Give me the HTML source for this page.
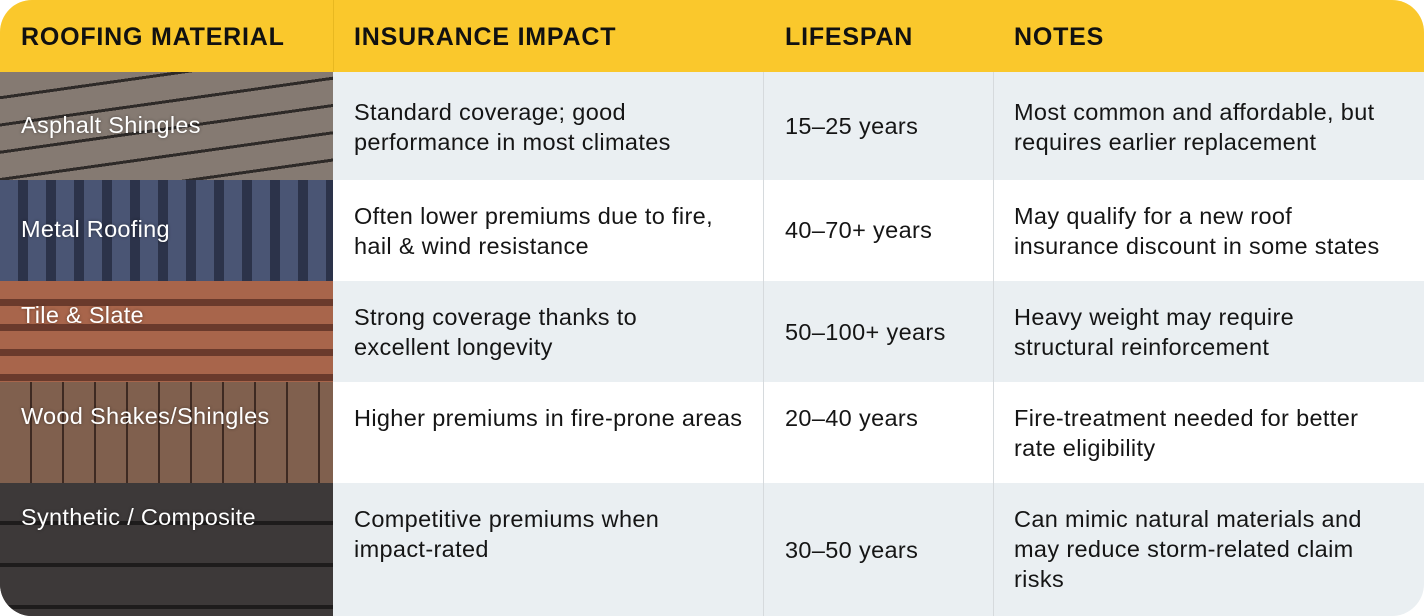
<!DOCTYPE html>
<html><head><meta charset="utf-8"><style>
*{margin:0;padding:0;box-sizing:border-box}
body{width:1424px;height:616px;background:#fff;overflow:hidden;font-family:"Liberation Sans",sans-serif}
#t{position:absolute;left:0;top:0;width:1424px;height:616px;border-radius:32px;overflow:hidden;background:#fff}
.hd{position:absolute;left:0;top:0;width:1424px;height:72px;background:#FAC82C}
.h{position:absolute;top:23px;font-weight:bold;font-size:25px;color:#111;letter-spacing:0.8px}
.row{position:absolute;left:333px;width:1091px}
.g{background:#EAEFF2}
.img{position:absolute;left:0;width:333px}
.vl{position:absolute;top:0;width:1px;height:616px;background:#d6dadd}
.tx{position:absolute;font-size:23.5px;line-height:30px;color:#151515;letter-spacing:0.35px;white-space:nowrap}
.lb{position:absolute;left:21px;font-size:23.5px;letter-spacing:0.3px;color:#fff;text-shadow:0 0 3px rgba(0,0,0,.4)}
</style></head><body>
<div id="t">
<div class="row g" style="top:72px;height:108px"></div>
<div class="row" style="top:180px;height:101px"></div>
<div class="row g" style="top:281px;height:101px"></div>
<div class="row" style="top:382px;height:101px"></div>
<div class="row g" style="top:483px;height:133px"></div>
<div class="vl" style="left:763px"></div>
<div class="vl" style="left:993px"></div>
<div class="img" style="top:72px;height:108px;background:repeating-linear-gradient(172deg,#857a72 0 24px,#2e2a28 24px 27px),#7d736b"></div>
<div class="img" style="top:180px;height:101px;background:repeating-linear-gradient(90deg,#4a5574 0 18px,#2c334a 18px 28px),#3b4560"></div>
<div class="img" style="top:281px;height:101px;background:repeating-linear-gradient(180deg,#a8654b 0 18px,#6a3a2c 18px 25px),#9a5a44"></div>
<div class="img" style="top:382px;height:101px;background:repeating-linear-gradient(90deg,#80604e 0 30px,#3e2a22 30px 32px),#7a5645"></div>
<div class="img" style="top:483px;height:133px;background:repeating-linear-gradient(180deg,#3d3939 0 38px,#1e1c1c 38px 42px),#3a3636"></div>
<div class="hd"></div>
<div class="vl" style="left:333px;height:72px;background:#e8b820"></div>
<div class="h" style="left:21px">ROOFING MATERIAL</div>
<div class="h" style="left:354px">INSURANCE IMPACT</div>
<div class="h" style="left:785px">LIFESPAN</div>
<div class="h" style="left:1014px">NOTES</div>

<div class="lb" style="top:112px">Asphalt Shingles</div>
<div class="lb" style="top:216px">Metal Roofing</div>
<div class="lb" style="top:302px">Tile &amp; Slate</div>
<div class="lb" style="top:403px">Wood Shakes/Shingles</div>
<div class="lb" style="top:504px">Synthetic / Composite</div>

<div class="tx" style="left:354px;top:97px">Standard coverage; good<br>performance in most climates</div>
<div class="tx" style="left:785px;top:111px">15–25 years</div>
<div class="tx" style="left:1014px;top:97px">Most common and affordable, but<br>requires earlier replacement</div>

<div class="tx" style="left:354px;top:201px">Often lower premiums due to fire,<br>hail &amp; wind resistance</div>
<div class="tx" style="left:785px;top:215px">40–70+ years</div>
<div class="tx" style="left:1014px;top:201px">May qualify for a new roof<br>insurance discount in some states</div>

<div class="tx" style="left:354px;top:302px">Strong coverage thanks to<br>excellent longevity</div>
<div class="tx" style="left:785px;top:317px">50–100+ years</div>
<div class="tx" style="left:1014px;top:302px">Heavy weight may require<br>structural reinforcement</div>

<div class="tx" style="left:354px;top:403px">Higher premiums in fire-prone areas</div>
<div class="tx" style="left:785px;top:403px">20–40 years</div>
<div class="tx" style="left:1014px;top:403px">Fire-treatment needed for better<br>rate eligibility</div>

<div class="tx" style="left:354px;top:504px">Competitive premiums when<br>impact-rated</div>
<div class="tx" style="left:785px;top:535px">30–50 years</div>
<div class="tx" style="left:1014px;top:504px">Can mimic natural materials and<br>may reduce storm-related claim<br>risks</div>
</div>
</body></html>
